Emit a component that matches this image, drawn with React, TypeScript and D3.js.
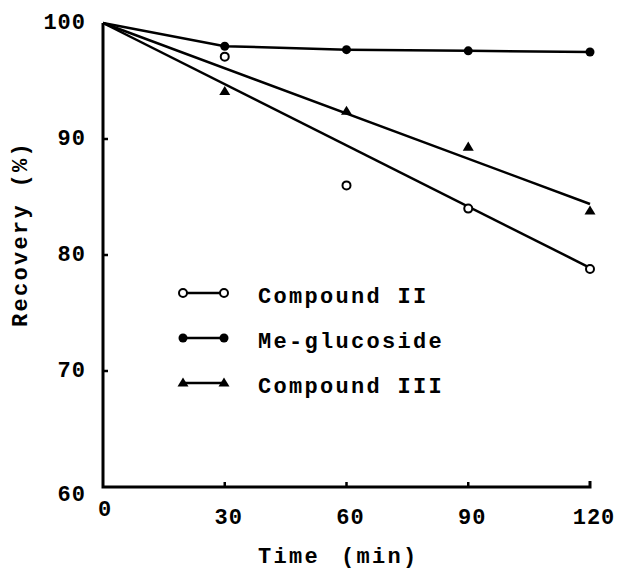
import * as d3 from 'd3';

// sampling times (min) and recoveries (%)
const times = [0, 30, 60, 90, 120];
const meGlucoside = [100, 98.0, 97.7, 97.6, 97.5];
const compoundII = [100, 97.1, 86.0, 84.0, 78.8];
const compoundIII = [100, 94.1, 92.4, 89.3, 83.8];

// straight fitted lines, start and end
const fitTimes = [0, 120];
const compoundIIFit = [100, 78.9];
const compoundIIIFit = [100, 84.4];

const xTicks = [0, 30, 60, 90, 120];
const yTicks = [60, 70, 80, 90, 100];
const legendLabels = ['Compound II', 'Me-glucoside', 'Compound III'];

const W = 621;
const H = 571;
const FONT = '"Liberation Mono", "DejaVu Sans Mono", monospace';

const x = d3.scaleLinear().domain([0, 120]).range([103, 590]);
const y = d3.scaleLinear().domain([60, 100]).range([487, 23]);

function Triangle({ cx, cy, s = 5.5 }: { cx: number; cy: number; s?: number }) {
  const p = `M${cx},${cy - s} L${cx + s},${cy + s * 0.65} L${cx - s},${cy + s * 0.65} Z`;
  return <path d={p} fill="#000" />;
}

function Marker({ kind, cx, cy }: { kind: string; cx: number; cy: number }) {
  if (kind === 'open') return <circle cx={cx} cy={cy} r={4} fill="#fff" stroke="#000" strokeWidth={2} />;
  if (kind === 'filled') return <circle cx={cx} cy={cy} r={4.5} fill="#000" />;
  return <Triangle cx={cx} cy={cy} />;
}

export default function App() {
  const line = d3
    .line<number>()
    .x((_, i) => x(times[i]))
    .y((v) => y(v));
  const fit = d3
    .line<number>()
    .x((_, i) => x(fitTimes[i]))
    .y((v) => y(v));

  const series = [
    { kind: 'open', values: compoundII },
    { kind: 'filled', values: meGlucoside },
    { kind: 'tri', values: compoundIII }
  ];

  const text = { fontFamily: FONT, fontWeight: 700, fontSize: 22, fill: '#000' } as const;

  return (
    <svg width={W} height={H} style={{ position: 'absolute', left: 0, top: 0, background: '#fff' }}>
      {/* axes */}
      <path
        d={`M${x(0)},${y(100)} L${x(0)},${y(60)} L${x(120)},${y(60)} L${x(120)},${y(60) - 6}`}
        fill="none"
        stroke="#000"
        strokeWidth={3}
      />
      {yTicks.slice(1, -1).map((t) => (
        <line key={t} x1={x(0)} x2={x(0) + 5} y1={y(t)} y2={y(t)} stroke="#000" strokeWidth={2.5} />
      ))}
      {xTicks.slice(1, -1).map((t) => (
        <line key={t} x1={x(t)} x2={x(t)} y1={y(60)} y2={y(60) - 5} stroke="#000" strokeWidth={2.5} />
      ))}
      {yTicks.map((t) => (
        <text
          key={t}
          {...text}
          x={86}
          y={y(t) + (t === 60 ? 8 : 0)}
          textAnchor="end"
          dominantBaseline="central"
          letterSpacing={1}
        >
          {t}
        </text>
      ))}
      {xTicks.map((t) => (
        <text
          key={t}
          {...text}
          x={x(t) + (t === 0 ? 2 : 4)}
          y={t === 0 ? 510 : 518}
          textAnchor="middle"
          dominantBaseline="central"
          letterSpacing={1}
        >
          {t}
        </text>
      ))}
      <text {...text} x={258} y={557} dominantBaseline="central" letterSpacing={2.3}>
        Time
        <tspan dx={21}>(min)</tspan>
      </text>
      <text
        {...text}
        transform={`translate(21,234) rotate(-90)`}
        textAnchor="middle"
        dominantBaseline="central"
        letterSpacing={2.3}
      >
        Recovery  (%)
      </text>

      {/* data */}
      <path d={fit(compoundIIFit) || ''} fill="none" stroke="#000" strokeWidth={2.5} />
      <path d={fit(compoundIIIFit) || ''} fill="none" stroke="#000" strokeWidth={2.5} />
      <path d={line(meGlucoside) || ''} fill="none" stroke="#000" strokeWidth={2.5} />
      {series.map((s) =>
        s.values.slice(1).map((v, i) => (
          <Marker key={`${s.kind}-${i}`} kind={s.kind} cx={x(times[i + 1])} cy={y(v)} />
        ))
      )}

      {/* legend */}
      {series.map((s, i) => {
        const ly = 293 + i * 45;
        return (
          <g key={s.kind}>
            <line x1={183} x2={224} y1={ly} y2={ly} stroke="#000" strokeWidth={2.5} />
            <Marker kind={s.kind} cx={183} cy={ly} />
            <Marker kind={s.kind} cx={224} cy={ly} />
            <text {...text} x={258} y={ly + 4} dominantBaseline="central" letterSpacing={2.3}>
              {legendLabels[i]}
            </text>
          </g>
        );
      })}
    </svg>
  );
}
